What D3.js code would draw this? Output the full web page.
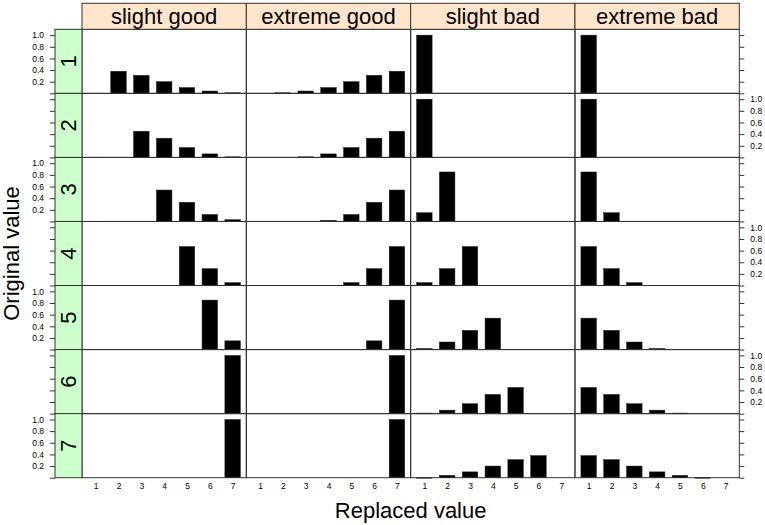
<!DOCTYPE html>
<html><head><meta charset="utf-8">
<script src="https://cdn.jsdelivr.net/npm/d3@7"></script>
<style>body{margin:0;background:#fff}svg{display:block}</style>
</head><body><svg id="c" width="765" height="525"></svg>
<script>
const replaced = [1, 2, 3, 4, 5, 6, 7];
const originals = ["1", "2", "3", "4", "5", "6", "7"];
const conditions = ["slight good", "extreme good", "slight bad", "extreme bad"];
const yTicks = [0, 0.2, 0.4, 0.6, 0.8, 1.0];
const yTickLabels = ["", "0.2", "0.4", "0.6", "0.8", "1.0"];
const xTickLabels = ["1", "2", "3", "4", "5", "6", "7"];

const slightGood = [
  [0, 0.38, 0.31, 0.20, 0.10, 0.04, 0.01],
  [0, 0, 0.45, 0.33, 0.17, 0.06, 0.01],
  [0, 0, 0, 0.54, 0.33, 0.12, 0.03],
  [0, 0, 0, 0, 0.67, 0.29, 0.05],
  [0, 0, 0, 0, 0, 0.85, 0.15],
  [0, 0, 0, 0, 0, 0, 1.0],
  [0, 0, 0, 0, 0, 0, 1.0]
];
const extremeGood = [
  [0, 0.01, 0.04, 0.10, 0.20, 0.31, 0.38],
  [0, 0, 0.01, 0.06, 0.17, 0.33, 0.45],
  [0, 0, 0, 0.02, 0.12, 0.33, 0.54],
  [0, 0, 0, 0, 0.05, 0.29, 0.67],
  [0, 0, 0, 0, 0, 0.15, 0.85],
  [0, 0, 0, 0, 0, 0, 1.0],
  [0, 0, 0, 0, 0, 0, 1.0]
];
const slightBad = [
  [1.0, 0, 0, 0, 0, 0, 0],
  [1.0, 0, 0, 0, 0, 0, 0],
  [0.15, 0.85, 0, 0, 0, 0, 0],
  [0.05, 0.29, 0.67, 0, 0, 0, 0],
  [0.02, 0.13, 0.33, 0.54, 0, 0, 0],
  [0.01, 0.06, 0.17, 0.33, 0.45, 0, 0],
  [0.005, 0.04, 0.10, 0.20, 0.31, 0.38, 0]
];
const extremeBad = [
  [1.0, 0, 0, 0, 0, 0, 0],
  [1.0, 0, 0, 0, 0, 0, 0],
  [0.85, 0.15, 0, 0, 0, 0, 0],
  [0.67, 0.29, 0.05, 0, 0, 0, 0],
  [0.54, 0.33, 0.13, 0.02, 0, 0, 0],
  [0.45, 0.33, 0.17, 0.06, 0.01, 0, 0],
  [0.38, 0.31, 0.20, 0.10, 0.04, 0.005, 0]
];
const seriesByCondition = [slightGood, extremeGood, slightBad, extremeBad];

const FONT = "'Liberation Sans', Arial, Helvetica, sans-serif";
const svg = d3.select("#c");
const L = 82, R = 739.3, T = 29.3, B = 477.7, stripTop = 3.3, stripLeft = 55;
const lineCol = "#333";

const colX = d3.scaleBand().domain(conditions).range([L, R]);
const rowY = d3.scaleBand().domain(originals).range([T, B]);
const x = d3.scaleLinear().domain([0.4, 7.6]).range([0, colX.bandwidth()]);
const y = d3.scaleLinear().domain([0, 1.1]).range([rowY.bandwidth(), 0]);
const barW = x(1.68) - x(1);

// panels
conditions.forEach((cond, ci) => {
  const data = seriesByCondition[ci];
  originals.forEach((orig, ri) => {
    const g = svg.append("g").attr("transform", `translate(${colX(cond)},${rowY(orig)})`);
    g.selectAll("rect.bar").data(data[ri].map((v, k) => ({v, k})).filter(d => d.v > 0))
      .join("rect").attr("class", "bar")
      .attr("x", d => x(replaced[d.k]) - barW / 2)
      .attr("width", barW)
      .attr("y", d => y(d.v))
      .attr("height", d => Math.max(y(0) - y(d.v), 0.8))
      .attr("fill", "#000").attr("stroke", "#222").attr("stroke-width", 0.5);
    g.append("rect").attr("x", 0).attr("y", 0)
      .attr("width", colX.bandwidth()).attr("height", rowY.bandwidth())
      .attr("fill", "none").attr("stroke", lineCol).attr("stroke-width", 1);
  });
  // top strip
  svg.append("rect").attr("x", colX(cond)).attr("y", stripTop)
    .attr("width", colX.bandwidth()).attr("height", T - stripTop)
    .attr("fill", "#ffe5cc").attr("stroke", lineCol).attr("stroke-width", 1);
  svg.append("text").attr("x", colX(cond) + colX.bandwidth() / 2).attr("y", 24)
    .attr("text-anchor", "middle").attr("font-family", FONT).attr("font-size", 22)
    .text(cond);
  // bottom axis
  const ax = svg.append("g").attr("transform", `translate(${colX(cond)},${B})`)
    .call(d3.axisBottom(x).tickValues(replaced).tickSize(0).tickPadding(5)
      .tickFormat((d, i) => xTickLabels[i]));
  ax.select(".domain").remove();
  ax.selectAll("text").attr("font-family", FONT).attr("font-size", 8.5).attr("fill", "#000");
});

// left strips + y axes
originals.forEach((orig, ri) => {
  svg.append("rect").attr("x", stripLeft).attr("y", rowY(orig))
    .attr("width", L - stripLeft).attr("height", rowY.bandwidth())
    .attr("fill", "#ccffcc").attr("stroke", lineCol).attr("stroke-width", 1);
  const cy = rowY(orig) + rowY.bandwidth() / 2, cx = (stripLeft + L) / 2;
  svg.append("text").attr("transform", `translate(${cx},${cy}) rotate(-90)`)
    .attr("text-anchor", "middle").attr("dy", "0.36em")
    .attr("font-family", FONT).attr("font-size", 22).text(orig);

  const labelLeft = ri % 2 === 0;
  const la = svg.append("g").attr("transform", `translate(${stripLeft},${rowY(orig)})`)
    .call(d3.axisLeft(y).tickValues(yTicks).tickSize(5).tickPadding(6)
      .tickFormat((d, i) => labelLeft ? yTickLabels[i] : ""));
  la.select(".domain").remove();
  la.selectAll("line").attr("stroke", lineCol);
  la.selectAll("text").attr("font-family", FONT).attr("font-size", 8.5).attr("fill", "#000");

  const ra = svg.append("g").attr("transform", `translate(${R},${rowY(orig)})`)
    .call(d3.axisRight(y).tickValues(yTicks).tickSize(5).tickPadding(6)
      .tickFormat((d, i) => labelLeft ? "" : yTickLabels[i]));
  ra.select(".domain").remove();
  ra.selectAll("line").attr("stroke", lineCol);
  ra.selectAll("text").attr("font-family", FONT).attr("font-size", 8.5).attr("fill", "#000");
});

// axis titles
svg.append("text").attr("x", (L + R) / 2).attr("y", 517.5).attr("text-anchor", "middle")
  .attr("font-family", FONT).attr("font-size", 22).text("Replaced value");
svg.append("text").attr("transform", `translate(19,${(T + B) / 2}) rotate(-90)`)
  .attr("text-anchor", "middle").attr("font-family", FONT).attr("font-size", 22)
  .text("Original value");
</script></body></html>
